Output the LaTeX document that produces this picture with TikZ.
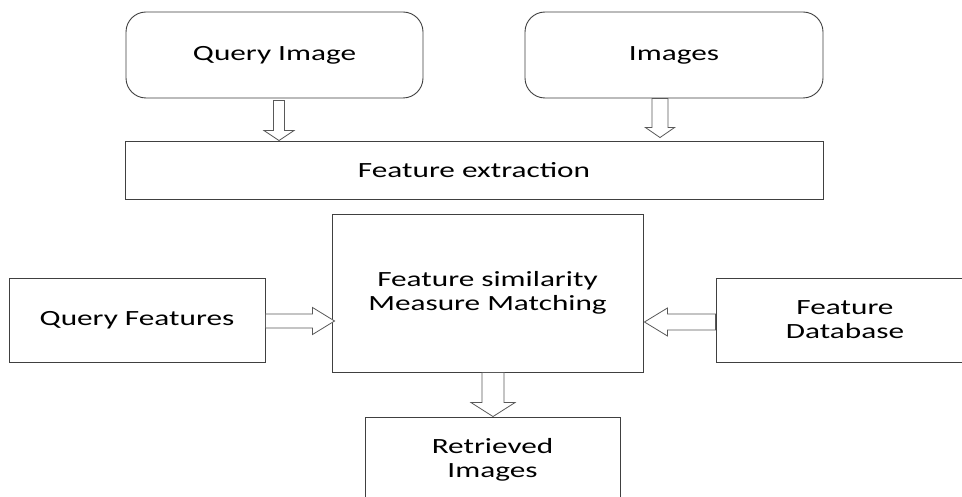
\documentclass[tikz,border=0pt]{standalone}
\usepackage{fontspec}
\setmainfont{Carlito}[FakeStretch=1.44]
\usetikzlibrary{calc}
\tikzset{
  boxline/.style={draw=black!75, line width=0.9pt, fill=white, inner sep=0pt, align=center,
    font=\fontsize{21.7}{24}\selectfont, text=black},
  rbox/.style={boxline, rounded corners=20pt},
  blk/.style={draw=black!65, line width=0.8pt, fill=white, line join=miter},
}
% vertical block arrow pointing down
\newcommand\vblock[7]{%
  \draw[blk] let \p1=($(#1)+(#2)$), \p2=($(#3)+(#4)$) in
   ({\x1-#5pt},\y1) -- ({\x1-#5pt},{\y2+#7pt}) -- ({\x1-#6pt},{\y2+#7pt}) -- (\x1,\y2)
   -- ({\x1+#6pt},{\y2+#7pt}) -- ({\x1+#5pt},{\y2+#7pt}) -- ({\x1+#5pt},\y1) -- cycle;}
% horizontal block arrow, #8 = 1 for rightwards, -1 for leftwards
\newcommand\hblock[8]{%
  \draw[blk] let \p1=($(#1)+(#2)$), \p2=($(#3)+(#4)$), \n1={\x2-(#8)*#7pt} in
   (\x1,{\y1+#5pt}) -- (\n1,{\y1+#5pt}) -- (\n1,{\y1+#6pt}) -- (\x2,\y1)
   -- (\n1,{\y1-#6pt}) -- (\n1,{\y1-#5pt}) -- (\x1,{\y1-#5pt}) -- cycle;}
\begin{document}
\begin{tikzpicture}[x=1pt,y=-1pt]
\useasboundingbox (0,0) rectangle (962,497);
\clip (0,0) rectangle (962,497);
\fill[white] (0,0) rectangle (962,497);

\node[rbox, minimum width=297pt, minimum height=86pt] (qi) at (274.5,55) {Query Image};
\node[rbox, minimum width=298pt, minimum height=86pt] (im) at (674,55) {Images};
\node[boxline, minimum width=698pt, minimum height=58pt] (fe) at (474,170) {Feature extraction};
\node[boxline, minimum width=256pt, minimum height=84pt] (qf) at (137,320) {Query Features};
\node[boxline, minimum width=311pt, minimum height=158pt] (fs) at (487.5,293) {Feature similarity\\Measure Matching};
\node[boxline, minimum width=258pt, minimum height=84pt] (fd) at (845,320) {Feature\\Database};
\node[boxline, minimum width=255pt, minimum height=86pt] (ri) at (492.5,460) {Retrieved\\Images};

\vblock{qi.south}{4.5,2}{fe.north}{0,0}{5.5}{15}{10}
\vblock{im.south}{-14,0}{fe.north}{0,-3}{8}{14.5}{10}
\vblock{fs.south}{5.5,0}{ri.north}{0,0}{11}{22}{14}
\hblock{qf.east}{0,1}{fs.west}{3,0}{7}{13.5}{22}{1}
\hblock{fd.west}{0,2}{fs.east}{1,0}{8}{14}{23}{-1}
\end{tikzpicture}
\end{document}
